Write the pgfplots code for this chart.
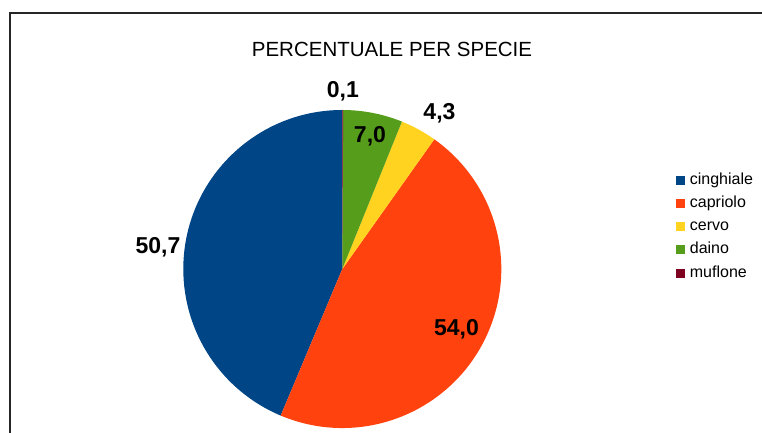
\documentclass[border=0pt]{standalone}
\usepackage{pgfplots}
\pgfplotsset{compat=1.18}
\usepackage{pgfplotstable}
\usepackage{fontspec}
\setmainfont{Liberation Sans}

\definecolor{cinghiale}{HTML}{004586}
\definecolor{capriolo}{HTML}{FF420E}
\definecolor{cervo}{HTML}{FFD320}
\definecolor{daino}{HTML}{579D1C}
\definecolor{muflone}{HTML}{7E0021}

% shares per species, with the place of each value label (radius = 1)
\pgfplotstableread{
species   value  lx      ly
cinghiale 50.7  -1.159   0.151
capriolo  54.0   0.718  -0.368
cervo      4.3   0.611   0.991
daino      7.0   0.174   0.843
muflone    0.1   0.004   1.126
}\speciesdata

\tikzset{pielabel/.style={font=\bfseries\fontsize{23}{26}\selectfont, text depth=0pt, inner sep=0pt}}

\begin{document}
\begin{tikzpicture}
\useasboundingbox (0,0) rectangle (762pt,433pt);
\draw[line width=1.5pt, black!85] (10pt,0) -- (10pt,420pt) -- (762pt,420pt);
\node[anchor=base, font=\fontsize{20.5}{24}\selectfont] at (392pt,376.5pt) {PERCENTUALE PER SPECIE};
\begin{axis}[
  x=159pt, y=159pt, xmin=-1, xmax=1, ymin=-1, ymax=1,
  hide axis, clip=false,
  anchor=origin, at={(342.3pt,164pt)},
  legend image code/.code={\path[#1] (0pt,-4.5pt) rectangle (9pt,4.5pt);},
  legend cell align=left,
  legend style={draw=none, fill=none, inner sep=0pt, outer sep=0pt,
    at={(rel axis cs:1.549,0.805)}, anchor=north west,
    font=\fontsize{16}{19}\selectfont, row sep=7.3pt,
    /tikz/every odd column/.append style={column sep=5pt},
    nodes={inner xsep=0pt, inner ysep=0pt, text height=12pt, text depth=4pt}},
]
\pgfplotstablegetrowsof{\speciesdata}
\pgfmathtruncatemacro\lastrow{\pgfplotsretval-1}
\def\total{0}
\pgfplotsforeachungrouped \i in {0,...,\lastrow}{%
  \pgfplotstablegetelem{\i}{value}\of\speciesdata
  \pgfmathsetmacro\total{\total+\pgfplotsretval}%
}
\def\startangle{90}
\pgfplotsforeachungrouped \i in {0,...,\lastrow}{%
  \pgfplotstablegetelem{\i}{species}\of\speciesdata \let\sp\pgfplotsretval
  \pgfplotstablegetelem{\i}{value}\of\speciesdata \let\val\pgfplotsretval
  \pgfmathsetmacro\endangle{\startangle+\val/\total*360}%
  \pgfmathsetmacro\cx{cos(\startangle)}%
  \pgfmathsetmacro\cy{sin(\startangle)}%
  \edef\doslice{\noexpand\fill[\sp] (axis cs:0,0) -- (axis cs:\cx,\cy)
    arc[start angle=\startangle, end angle=\endangle, radius=159pt] -- cycle;}%
  \doslice
  \let\startangle\endangle
}
\pgfplotsforeachungrouped \i in {0,...,\lastrow}{%
  \pgfplotstablegetelem{\i}{value}\of\speciesdata \let\val\pgfplotsretval
  \pgfplotstablegetelem{\i}{lx}\of\speciesdata \let\lx\pgfplotsretval
  \pgfplotstablegetelem{\i}{ly}\of\speciesdata \let\ly\pgfplotsretval
  \edef\dolabel{\noexpand\node[pielabel] at (axis cs:\lx,\ly)
    {\noexpand\pgfmathprintnumber[fixed,fixed zerofill,precision=1,use comma,assume math mode=true]{\val}};}%
  \dolabel
}
\addlegendimage{fill=cinghiale, draw=none}\addlegendentry{cinghiale}
\addlegendimage{fill=capriolo, draw=none}\addlegendentry{capriolo}
\addlegendimage{fill=cervo, draw=none}\addlegendentry{cervo}
\addlegendimage{fill=daino, draw=none}\addlegendentry{daino}
\addlegendimage{fill=muflone, draw=none}\addlegendentry{muflone}
\end{axis}
\end{tikzpicture}
\end{document}
